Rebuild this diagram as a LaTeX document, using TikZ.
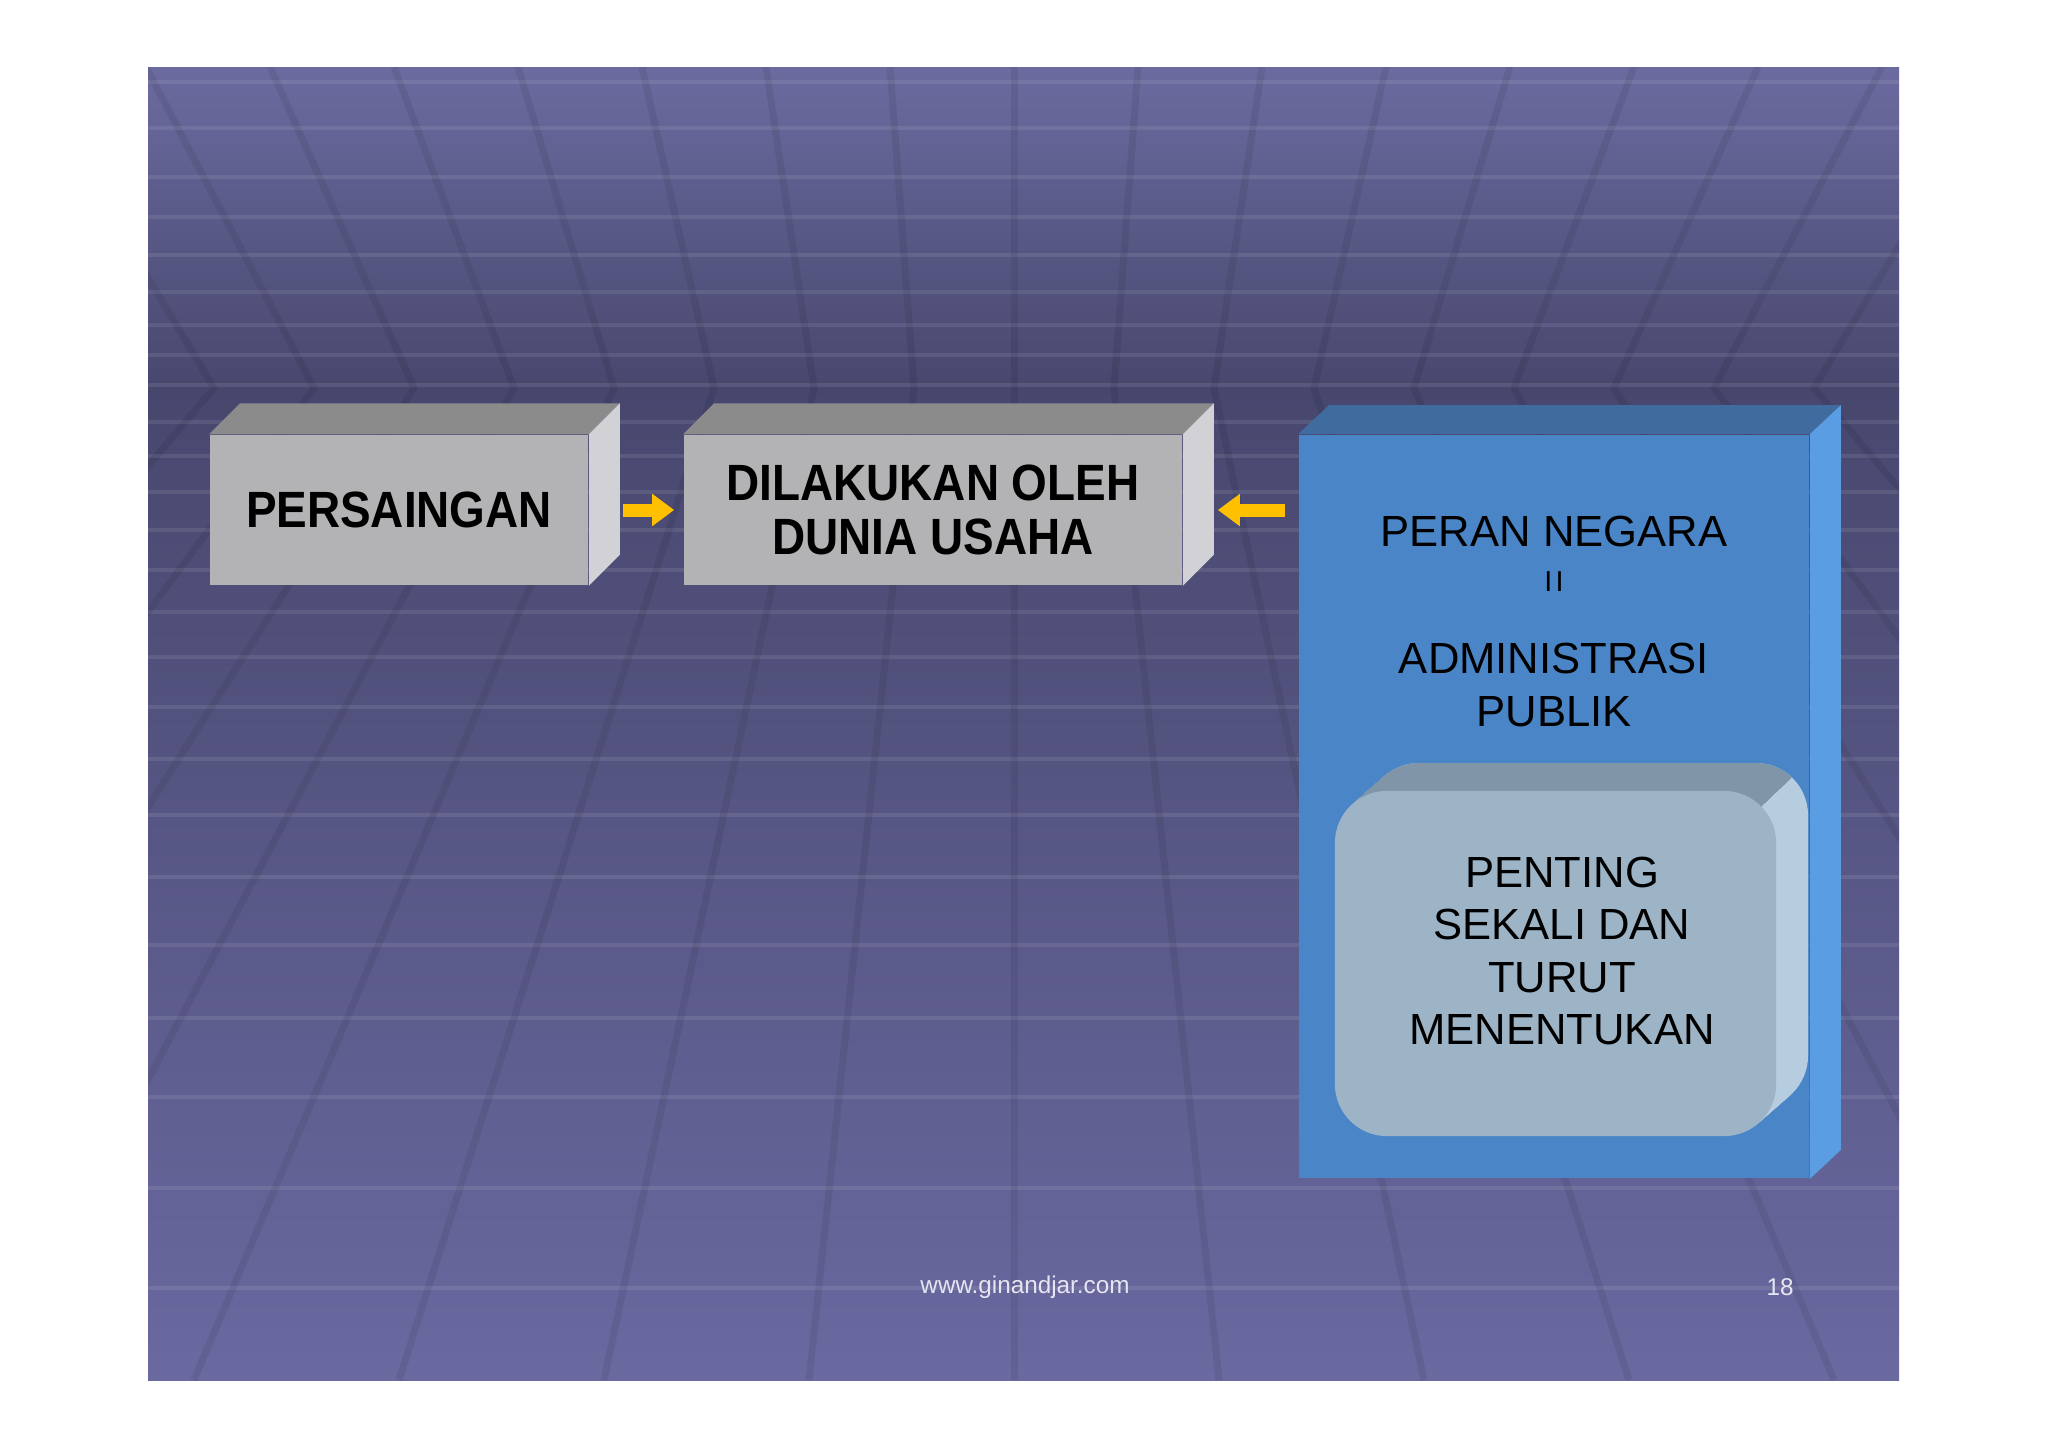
\documentclass[tikz,border=0pt]{standalone}
\usepackage{fontspec}
\setmainfont{Liberation Sans}
\newfontfamily\slabfont{Liberation Sans}[FakeStretch=0.9]
\usetikzlibrary{arrows.meta,calc}

\definecolor{bgtop}{HTML}{6B6BA0}
\definecolor{bgmid}{HTML}{47476E}
\definecolor{bgbottom}{HTML}{6A69A0}
\definecolor{slabfront}{HTML}{B3B3B5}
\definecolor{slabtop}{HTML}{8B8B8B}
\definecolor{slabside}{HTML}{D2D2D6}
\definecolor{panelfront}{HTML}{4A86C7}
\definecolor{paneltop}{HTML}{3F6B9F}
\definecolor{panelside}{HTML}{5A9DE3}
\definecolor{cushionfront}{HTML}{9CB4C6}
\definecolor{cushiontop}{HTML}{8096A8}
\definecolor{cushionside}{HTML}{B5CDDF}
\definecolor{arrowyellow}{HTML}{FFC000}
\definecolor{footgray}{HTML}{E6E6F2}

\newcommand{\slabfaces}[5]{%
  \fill[#2] (#1.north west) -- ++(#4,-#5) -- ($(#1.north east)+(#4,-#5)$) -- (#1.north east) -- cycle;
  \fill[#3] (#1.north east) -- ++(#4,-#5) -- ($(#1.south east)+(#4,-#5)$) -- (#1.south east) -- cycle;}

\begin{document}
\begin{tikzpicture}[
        x=0.01cm, y=-0.01cm,
        gridrow/.style={white, opacity=0.09, line width=0.045cm},
        gridfan/.style={black, opacity=0.07, line width=0.07cm},
        slab/.style={fill=slabfront, minimum height=1.5cm, inner sep=0pt, align=center,
          font=\slabfont\bfseries\fontsize{14.5}{15.6}\selectfont},
        panel/.style={fill=panelfront, inner sep=0pt, minimum width=5.1cm, minimum height=7.43cm},
        paneltext/.style={font=\fontsize{12.4}{14.9}\selectfont, inner sep=0pt, align=center, anchor=base},
        cushion/.style={fill=cushionfront, rounded corners=0.52cm, inner sep=0pt,
          minimum width=4.41cm, minimum height=3.45cm},
        feed/.style={draw=arrowyellow, line width=0.13cm, -{Triangle[width=0.31cm,length=0.22cm]}},
        footer/.style={text=footgray, font=\fontsize{6.9}{8}\selectfont, inner sep=0pt}
        ]
        \fill[white] (0,0) rectangle (2048,1448);
        \useasboundingbox (0,0) rectangle (2048,1448);

        % slide background
        \shade[top color=bgtop, bottom color=bgmid] (148,67) rectangle (1899,389);
        \shade[top color=bgmid, bottom color=bgbottom] (148,388) rectangle (1899,1380);
        \begin{scope}
          \clip (148,67) rectangle (1899,1380);
          \foreach \ry in {82,128,177,217,255,292,325,355,385,422,456,492,530,570,612,657,707,759,815,877,945,1018,1097,1188,1288}
            \draw[gridrow] (148,\ry) -- (1899,\ry);
          \foreach \k in {-12,...,12}
            \draw[gridfan] ({1014+124*\k},67) -- ({1014+100*\k},388) -- ({1014+205*\k},1380);
        \end{scope}

        \node[slab, minimum width=3.78cm] (compete) at (399,510) {PERSAINGAN};
        \node[slab, minimum width=4.98cm] (business) at (933,510) {DILAKUKAN OLEH\\DUNIA USAHA};
        \slabfaces{compete}{slabtop}{slabside}{31}{31}
        \slabfaces{business}{slabtop}{slabside}{31}{31}

        \node[panel] (state) at (1554,806.5) {};
        \slabfaces{state}{paneltop}{panelside}{31}{29}

        \node[paneltext] (role) at (1554,546) {PERAN NEGARA};
        \node[paneltext, font=\fontsize{8.2}{9}\selectfont] (equals) at (1554,591) {I\kern0.9ptI};
        \node[paneltext] (admin) at (1554,673) {ADMINISTRASI};
        \node[paneltext] (public) at (1554,726) {PUBLIK};

        % raised cushion
        \foreach \t in {32,31,...,1}
          \fill[cushionside, rounded corners=0.52cm] ({1335+\t},{791-\t*28/32}) rectangle ++(441,345);
        \begin{scope}
          \clip (1290,650) -- (1928,650) -- (1761,806) -- (1290,806) -- cycle;
          \foreach \t in {32,31,...,1}
            \fill[cushiontop, rounded corners=0.52cm] ({1335+\t},{791-\t*28/32}) rectangle ++(441,345);
        \end{scope}
        \node[cushion] (key) at (1555.5,963.5) {};
        \node[paneltext, anchor=center] (keytext) at (1562,951) {PENTING\\SEKALI DAN\\TURUT\\MENENTUKAN};

        \draw[feed, shorten <=0.34cm, shorten >=0.09cm] (compete.east) -- (business.west);
        \draw[feed, shorten <=0.13cm, shorten >=0.35cm] (state.west |- business.east) -- (business.east);

        \node[footer] (site) at (1025,1287) {www.ginandjar.com};
        \node[footer] (page) at (1780,1287) {18};
        \end{tikzpicture}
\end{document}
